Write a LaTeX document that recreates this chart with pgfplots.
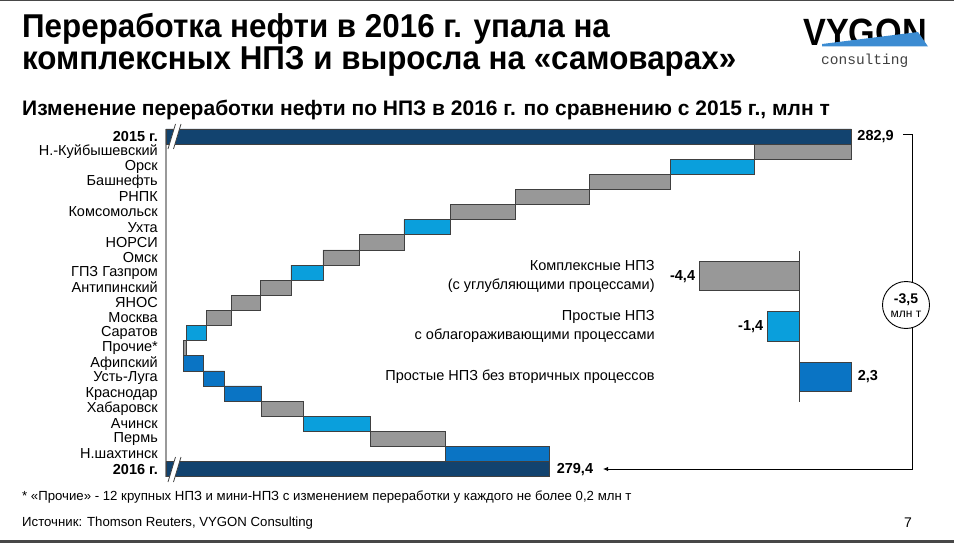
\documentclass[border=0pt]{standalone}
\usepackage{fontspec}
\setmainfont{Liberation Sans}
\newfontfamily\narrow{Liberation Sans}[FakeStretch=0.95]
\newfontfamily\logofont{Liberation Sans}[FakeStretch=0.9]
\newfontfamily\monof{Liberation Mono}
\usepackage{pgfplots}
\usepackage{pgfplotstable}
\pgfplotsset{compat=1.18}
\usetikzlibrary{arrows.meta}

\definecolor{navy}{HTML}{12436F}
\definecolor{wfgray}{HTML}{989898}
\definecolor{lblue}{HTML}{0A9FDC}
\definecolor{dblue}{HTML}{0A74C4}
\definecolor{edge}{HTML}{404040}
\definecolor{logoblue}{HTML}{3C8CD2}

% waterfall: from / to in mln t, grp 0 = total, 1 = complex, 2 = simple with upgrading, 3 = simple without secondary
\pgfplotstableread{
row from   to     grp
0   274.95 282.90 0
1   281.78 282.90 1
2   280.80 281.78 2
3   279.86 280.80 1
4   279.00 279.86 1
5   278.25 279.00 1
6   277.71 278.25 2
7   277.19 277.71 1
8   276.77 277.19 1
9   276.40 276.77 2
10  276.05 276.40 1
11  275.71 276.05 1
12  275.42 275.71 1
13  275.19 275.42 2
14  275.15 275.19 1
15  275.15 275.38 3
16  275.38 275.63 3
17  275.63 276.06 3
18  276.06 276.54 1
19  276.54 277.32 2
20  277.32 278.19 1
21  278.19 279.40 3
22  274.95 279.40 0
}\refineries

\pgfplotstablegetelem{0}{to}\of\refineries \let\totA\pgfplotsretval
\pgfplotstablegetelem{22}{to}\of\refineries \let\totB\pgfplotsretval
\pgfmathsetmacro\xA{\totA-274.95}
\pgfmathsetmacro\xB{\totB-274.95}

\begin{document}
\begin{tikzpicture}
\useasboundingbox (0,0) rectangle (954pt,-543pt);

\begin{axis}[
    at={(166pt,-128.9pt)}, anchor=north west,
    scale only axis, width=732.7pt, height=347.8pt,
    xbar stacked, bar width=1,
    xmin=0, xmax=8.5, ymin=-0.5, ymax=22.5, y dir=reverse,
    axis x line=none, axis y line*=left,
    y axis line style={draw=black!40, line width=1.3pt},
    ytick={0,...,22},
    yticklabels={\textbf{2015 г.},Н.-Куйбышевский,Орск,Башнефть,РНПК,Комсомольск,Ухта,НОРСИ,Омск,ГПЗ Газпром,Антипинский,ЯНОС,Москва,Саратов,Прочие*,Афипский,Усть-Луга,Краснодар,Хабаровск,Ачинск,Пермь,Н.шахтинск,\textbf{2016 г.}},
    major tick length=0pt,
    yticklabel style={font=\fontsize{14.5}{15}\selectfont, inner sep=0pt, xshift=-8pt},
    clip=false,
]
\addplot[draw=none, fill=none] table[x expr=\thisrow{from}-274.95, y=row]{\refineries};
\addplot[fill=wfgray, draw=edge, line width=0.7pt] table[x expr={\thisrow{grp}==1 ? \thisrow{to}-\thisrow{from} : 0}, y=row]{\refineries};
\addplot[fill=lblue, draw=edge, line width=0.7pt] table[x expr={\thisrow{grp}==2 ? \thisrow{to}-\thisrow{from} : 0}, y=row]{\refineries};
\addplot[fill=dblue, draw=edge, line width=0.7pt] table[x expr={\thisrow{grp}==3 ? \thisrow{to}-\thisrow{from} : 0}, y=row]{\refineries};
\addplot[fill=navy, draw=edge, line width=0.7pt] table[x expr={\thisrow{grp}==0 ? \thisrow{to}-\thisrow{from} : 0}, y=row]{\refineries};
\node[anchor=west, inner sep=0pt, xshift=6pt, font=\bfseries\fontsize{14.5}{15}\selectfont]
  at (axis cs:\xA,0) {\pgfmathprintnumber[use comma, fixed, precision=1, fixed zerofill, assume math mode=true]{\totA}};
\node[anchor=west, inner sep=0pt, xshift=7pt, font=\bfseries\fontsize{14.5}{15}\selectfont]
  at (axis cs:\xB,22) {\pgfmathprintnumber[use comma, fixed, precision=1, fixed zerofill, assume math mode=true]{\totB}};
\end{axis}

\begin{axis}[
    at={(685.8pt,-251.1pt)}, anchor=north west,
    scale only axis, width=181.6pt, height=150.6pt,
    xbar, bar width=0.58, bar shift=0pt,
    xmin=-5, xmax=3, ymin=-0.5, ymax=2.5, y dir=reverse,
    axis line style={draw=none}, xtick=\empty,
    ytick={0,1,2},
    yticklabels={{Комплексные НПЗ\\(с углубляющими процессами)},{Простые НПЗ \\с облагораживающими процессами},{Простые НПЗ без вторичных процессов}},
    major tick length=0pt,
    yticklabel style={font=\fontsize{14.5}{19}\selectfont, align=right, inner sep=0pt, xshift=-31pt},
    extra x ticks={0}, extra x tick labels={},
    extra x tick style={grid=major, major grid style={draw=edge, line width=0.9pt}},
    point meta=x,
    nodes near coords={\pgfmathprintnumber[use comma, fixed, precision=1, fixed zerofill, assume math mode=true]{\pgfplotspointmeta}},
    every node near coord/.append style={inner sep=0pt, text=black, font=\bfseries\fontsize{14.5}{15}\selectfont},
    clip=false,
]
\addplot[fill=wfgray, draw=edge, line width=0.7pt, every node near coord/.append style={anchor=east, xshift=-4pt}] coordinates {(-4.4,0)};
\addplot[fill=lblue, draw=edge, line width=0.7pt, every node near coord/.append style={anchor=east, xshift=-4pt}] coordinates {(-1.4,1)};
\addplot[fill=dblue, draw=edge, line width=0.7pt, every node near coord/.append style={anchor=west, xshift=6pt}] coordinates {(2.3,2)};
\end{axis}

\begin{scope}[x=1pt, y=-1pt]
% page strips
\fill[black!72] (0,0) rectangle (954,1.5);
\fill[black!72] (0,540) rectangle (954,543);
% axis breaks
\foreach \yy in {0,333} {
  \fill[white] (168,149+\yy) -- (175.5,124+\yy) -- (181,124+\yy) -- (173.5,149+\yy) -- cycle;
  \draw[edge, line width=0.8pt] (168,149+\yy) -- (175.5,124+\yy);
  \draw[edge, line width=0.8pt] (173.5,149+\yy) -- (181,124+\yy);
}
% connector
\draw[black, line width=0.9pt, -{Latex[length=5pt, width=4.5pt]}] (903,134.5) -- (912,134.5) -- (912,469) -- (603,469);
\draw[black, line width=0.9pt, fill=white] (906,305) circle (23.5);
\node[inner sep=0pt, font=\bfseries\fontsize{14}{14}\selectfont] at (906,300) {-3,5};
\node[inner sep=0pt, font=\fontsize{12}{12}\selectfont] at (906,314.5) {млн т};
% titles
\node[anchor=base west, inner sep=0pt, font=\narrow\bfseries\fontsize{33}{34}\selectfont] at (22,38) {Переработка нефти в 2016 г. упала на};
\node[anchor=base west, inner sep=0pt, font=\narrow\bfseries\fontsize{33}{34}\selectfont] at (22,70) {комплексных НПЗ и выросла на «самоварах»};
\node[anchor=base west, inner sep=0pt, font=\bfseries\fontsize{21}{22}\selectfont] at (22,115) {Изменение переработки нефти по НПЗ в 2016 г. по сравнению с 2015 г., млн т};
% logo
\node[anchor=base west, inner sep=0pt, text height=27pt, text depth=0pt, font=\logofont\bfseries\fontsize{38}{38}\selectfont] at (803,46) {VYGON};
\fill[logoblue] (822,44) -- (918,32) -- (928,46.5) -- (822,46.5) -- cycle;
\node[anchor=base west, inner sep=0pt, text height=7pt, text depth=0pt, font=\monof\fontsize{14.5}{15}\selectfont, text=black!75] at (821,65) {consulting};
% footer
\node[anchor=base west, inner sep=0pt, font=\fontsize{13.2}{14}\selectfont] at (22,500) {* «Прочие» - 12 крупных НПЗ и мини-НПЗ с изменением переработки у каждого не более 0,2 млн т};
\node[anchor=base west, inner sep=0pt, font=\fontsize{13.2}{14}\selectfont] at (22,526) {Источник: Thomson Reuters, VYGON Consulting};
\node[anchor=base west, inner sep=0pt, font=\fontsize{14}{14}\selectfont] at (904,527) {7};
\end{scope}
\end{tikzpicture}
\end{document}
